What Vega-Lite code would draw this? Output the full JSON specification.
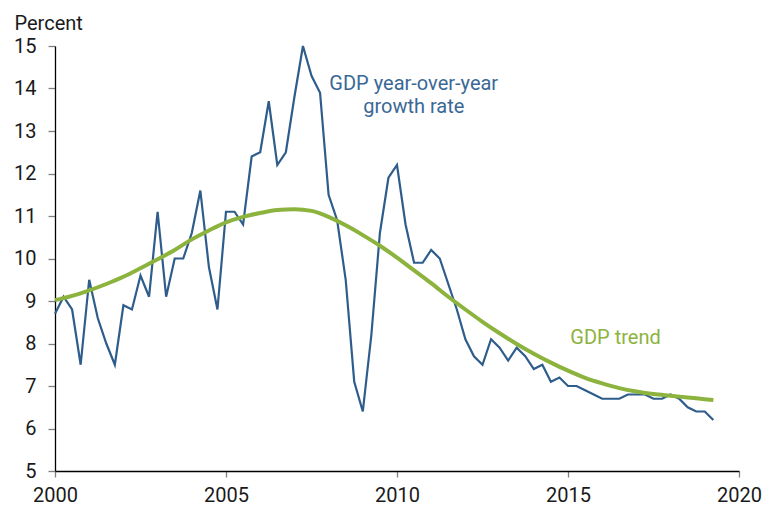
{
  "$schema": "https://vega.github.io/schema/vega-lite/v6.json",
  "width": 684,
  "height": 425,
  "autosize": "none",
  "padding": {"left": 55, "top": 46, "right": 26, "bottom": 35},
  "background": "white",
  "config": {
    "view": {"stroke": null},
    "font": "Roboto",
    "axis": {
      "labelFont": "Roboto",
      "labelFontSize": 20,
      "labelColor": "#1a1a1a",
      "domainColor": "#000000",
      "domainWidth": 1.3,
      "tickColor": "#808080",
      "tickWidth": 1.3,
      "grid": false
    }
  },
  "datasets": {
    "gdp": [
      {"t": 2000.0, "v": 8.7}, {"t": 2000.25, "v": 9.1}, {"t": 2000.5, "v": 8.8}, {"t": 2000.75, "v": 7.5},
      {"t": 2001.0, "v": 9.5}, {"t": 2001.25, "v": 8.6}, {"t": 2001.5, "v": 8.0}, {"t": 2001.75, "v": 7.5},
      {"t": 2002.0, "v": 8.9}, {"t": 2002.25, "v": 8.8}, {"t": 2002.5, "v": 9.6}, {"t": 2002.75, "v": 9.1},
      {"t": 2003.0, "v": 11.1}, {"t": 2003.25, "v": 9.1}, {"t": 2003.5, "v": 10.0}, {"t": 2003.75, "v": 10.0},
      {"t": 2004.0, "v": 10.6}, {"t": 2004.25, "v": 11.6}, {"t": 2004.5, "v": 9.8}, {"t": 2004.75, "v": 8.8},
      {"t": 2005.0, "v": 11.1}, {"t": 2005.25, "v": 11.1}, {"t": 2005.5, "v": 10.8}, {"t": 2005.75, "v": 12.4},
      {"t": 2006.0, "v": 12.5}, {"t": 2006.25, "v": 13.7}, {"t": 2006.5, "v": 12.2}, {"t": 2006.75, "v": 12.5},
      {"t": 2007.0, "v": 13.8}, {"t": 2007.25, "v": 15.0}, {"t": 2007.5, "v": 14.3}, {"t": 2007.75, "v": 13.9},
      {"t": 2008.0, "v": 11.5}, {"t": 2008.25, "v": 10.9}, {"t": 2008.5, "v": 9.5}, {"t": 2008.75, "v": 7.1},
      {"t": 2009.0, "v": 6.4}, {"t": 2009.25, "v": 8.2}, {"t": 2009.5, "v": 10.6}, {"t": 2009.75, "v": 11.9},
      {"t": 2010.0, "v": 12.2}, {"t": 2010.25, "v": 10.8}, {"t": 2010.5, "v": 9.9}, {"t": 2010.75, "v": 9.9},
      {"t": 2011.0, "v": 10.2}, {"t": 2011.25, "v": 10.0}, {"t": 2011.5, "v": 9.4}, {"t": 2011.75, "v": 8.8},
      {"t": 2012.0, "v": 8.1}, {"t": 2012.25, "v": 7.7}, {"t": 2012.5, "v": 7.5}, {"t": 2012.75, "v": 8.1},
      {"t": 2013.0, "v": 7.9}, {"t": 2013.25, "v": 7.6}, {"t": 2013.5, "v": 7.9}, {"t": 2013.75, "v": 7.7},
      {"t": 2014.0, "v": 7.4}, {"t": 2014.25, "v": 7.5}, {"t": 2014.5, "v": 7.1}, {"t": 2014.75, "v": 7.2},
      {"t": 2015.0, "v": 7.0}, {"t": 2015.25, "v": 7.0}, {"t": 2015.5, "v": 6.9}, {"t": 2015.75, "v": 6.8},
      {"t": 2016.0, "v": 6.7}, {"t": 2016.25, "v": 6.7}, {"t": 2016.5, "v": 6.7}, {"t": 2016.75, "v": 6.8},
      {"t": 2017.0, "v": 6.8}, {"t": 2017.25, "v": 6.8}, {"t": 2017.5, "v": 6.7}, {"t": 2017.75, "v": 6.7},
      {"t": 2018.0, "v": 6.8}, {"t": 2018.25, "v": 6.7}, {"t": 2018.5, "v": 6.5}, {"t": 2018.75, "v": 6.4},
      {"t": 2019.0, "v": 6.4}, {"t": 2019.25, "v": 6.2}
    ],
    "trend": [
      {"t": 2000.0, "v": 9.02}, {"t": 2000.5, "v": 9.12}, {"t": 2001.0, "v": 9.25}, {"t": 2001.5, "v": 9.4},
      {"t": 2002.0, "v": 9.57}, {"t": 2002.5, "v": 9.77}, {"t": 2003.0, "v": 9.98}, {"t": 2003.5, "v": 10.2},
      {"t": 2004.0, "v": 10.45}, {"t": 2004.5, "v": 10.66}, {"t": 2005.0, "v": 10.85}, {"t": 2005.5, "v": 10.98},
      {"t": 2006.0, "v": 11.07}, {"t": 2006.5, "v": 11.14}, {"t": 2007.0, "v": 11.16}, {"t": 2007.5, "v": 11.12},
      {"t": 2008.0, "v": 10.98}, {"t": 2008.5, "v": 10.78}, {"t": 2009.0, "v": 10.55}, {"t": 2009.5, "v": 10.3},
      {"t": 2010.0, "v": 10.02}, {"t": 2010.5, "v": 9.72}, {"t": 2011.0, "v": 9.42}, {"t": 2011.5, "v": 9.1},
      {"t": 2012.0, "v": 8.8}, {"t": 2012.5, "v": 8.51}, {"t": 2013.0, "v": 8.24}, {"t": 2013.5, "v": 7.99},
      {"t": 2014.0, "v": 7.76}, {"t": 2014.5, "v": 7.55}, {"t": 2015.0, "v": 7.36}, {"t": 2015.5, "v": 7.19},
      {"t": 2016.0, "v": 7.06}, {"t": 2016.5, "v": 6.95}, {"t": 2017.0, "v": 6.87}, {"t": 2017.5, "v": 6.81},
      {"t": 2018.0, "v": 6.77}, {"t": 2018.5, "v": 6.73}, {"t": 2019.0, "v": 6.69}, {"t": 2019.25, "v": 6.67}
    ],
    "labels": [
      {"t": 2010.49, "v": 13.97, "label": "GDP year-over-year", "series": "gdp"},
      {"t": 2010.49, "v": 13.43, "label": "growth rate", "series": "gdp"},
      {"t": 2016.39, "v": 7.985, "label": "GDP trend", "series": "trend"}
    ]
  },
  "layer": [
    {
      "data": {"name": "gdp"},
      "mark": {"type": "line", "color": "#2e5d8c", "strokeWidth": 2.2, "strokeJoin": "miter"},
      "encoding": {
        "x": {
          "field": "t", "type": "quantitative",
          "scale": {"domain": [2000, 2020], "nice": false, "zero": false},
          "axis": {"values": [2000, 2005, 2010, 2015, 2020], "format": "d", "title": null, "tickSize": 6, "labelPadding": 8, "labelFlush": false}
        },
        "y": {
          "field": "v", "type": "quantitative",
          "scale": {"domain": [5, 15], "nice": false, "zero": false},
          "axis": {
            "values": [5, 6, 7, 8, 9, 10, 11, 12, 13, 14, 15],
            "tickSize": 7, "labelPadding": 12, "labelFlush": false,
            "title": "Percent", "titleAngle": 0, "titleAlign": "left", "titleBaseline": "alphabetic",
            "titleX": -41, "titleY": -17, "titleFont": "Roboto", "titleFontSize": 20, "titleFontWeight": "normal", "titleColor": "#1a1a1a"
          }
        }
      }
    },
    {
      "data": {"name": "trend"},
      "mark": {"type": "line", "color": "#8cb33d", "strokeWidth": 4, "interpolate": "monotone"},
      "encoding": {
        "x": {"field": "t", "type": "quantitative"},
        "y": {"field": "v", "type": "quantitative"}
      }
    },
    {
      "data": {"name": "labels"},
      "mark": {"type": "text", "font": "Roboto", "fontSize": 20, "align": "center", "baseline": "alphabetic"},
      "encoding": {
        "x": {"field": "t", "type": "quantitative"},
        "y": {"field": "v", "type": "quantitative"},
        "text": {"field": "label"},
        "color": {
          "field": "series", "type": "nominal",
          "scale": {"domain": ["gdp", "trend"], "range": ["#3a6896", "#8cb33d"]},
          "legend": null
        }
      }
    }
  ]
}
